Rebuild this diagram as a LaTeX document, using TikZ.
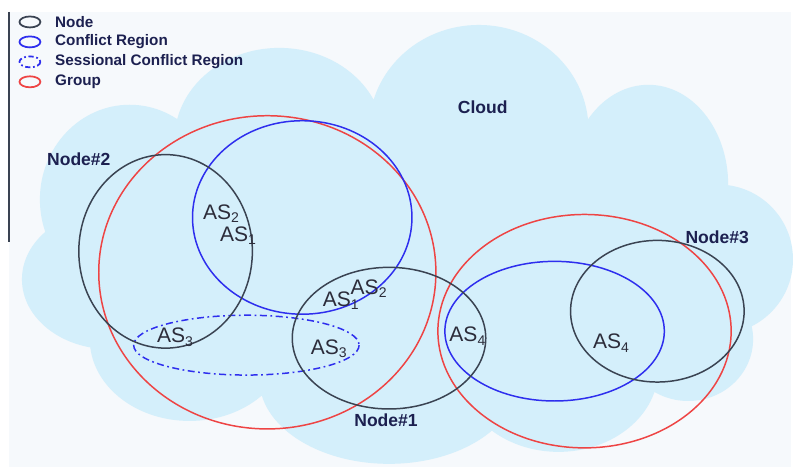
\documentclass[tikz,border=0pt]{standalone}
\usepackage{fontspec}
\setmainfont{Liberation Sans}
\definecolor{cloudblue}{HTML}{D4EFFB}
\definecolor{bgpale}{HTML}{F6F9FC}
\definecolor{nodegrey}{HTML}{3A4352}
\definecolor{regionblue}{HTML}{2E2EEE}
\definecolor{groupred}{HTML}{EE4444}
\definecolor{navy}{HTML}{1C2050}
\definecolor{astext}{HTML}{2C2C3A}

\begin{document}
\begin{tikzpicture}[
    x=0.02cm, y=-0.02cm,
    nodering/.style={draw=nodegrey, line width=0.85pt},
    regionring/.style={draw=regionblue, line width=0.85pt},
    sessionring/.style={draw=regionblue, line width=0.85pt,
        dash pattern=on 4pt off 2pt on 1pt off 2pt},
    groupring/.style={draw=groupred, line width=0.85pt},
    aslabel/.style={font=\fontsize{12}{14}\selectfont, text=astext, inner sep=0pt},
    namelabel/.style={font=\fontsize{10}{12}\selectfont\bfseries, text=navy, inner sep=0pt},
    legendtext/.style={font=\fontsize{8.7}{10}\selectfont\bfseries, text=navy,
        anchor=west, inner sep=0pt}
]

% 배경
\fill[white] (0,0) rectangle (793,468);
\fill[bgpale] (9,12) rectangle (793,468);
\draw[nodegrey, line width=0.8pt] (9,12) -- (9,243);

% 구름
\fill[cloudblue]
    (420,260) ellipse [x radius=300, y radius=160]
    (130,200) ellipse [x radius=90, y radius=95]
    (280,140) ellipse [x radius=105, y radius=92]
    (480,130) ellipse [x radius=110, y radius=105]
    (650,185) ellipse [x radius=80, y radius=100]
    (720,260) ellipse [x radius=75, y radius=75]
    (690,340) ellipse [x radius=65, y radius=62]
    (560,370) ellipse [x radius=100, y radius=83]
    (390,380) ellipse [x radius=130, y radius=85]
    (190,340) ellipse [x radius=100, y radius=82]
    (110,280) ellipse [x radius=88, y radius=70];

% 범례
\draw[nodering, line width=1pt] (30,22) ellipse [x radius=10.5, y radius=5.5];
\draw[regionring, line width=1pt] (30,42) ellipse [x radius=10.5, y radius=5.5];
\draw[sessionring, line width=1pt, dash pattern=on 3pt off 1.5pt on 1pt off 1.5pt]
    (30,62) ellipse [x radius=10.5, y radius=5.5];
\draw[groupring, line width=1pt] (30,82) ellipse [x radius=10.5, y radius=5.5];
\node[legendtext] (lnode) at (55,22) {Node};
\node[legendtext] (lregion) at (55,42) {Conflict Region};
\node[legendtext] (lsession) at (55,62) {Sessional Conflict Region};
\node[legendtext] (lgroup) at (55,82) {Group};

% 그룹
\draw[groupring] (268,273) ellipse [x radius=169, y radius=157];
\draw[groupring] (586,332) ellipse [x radius=147, y radius=117];

% 충돌 영역
\draw[regionring] (303,218) ellipse [x radius=110, y radius=97];
\draw[regionring] (556,332) ellipse [x radius=110, y radius=70];
\draw[sessionring] (247,346) ellipse [x radius=113, y radius=30];

% 노드
\draw[nodering] (166,252) ellipse [x radius=87, y radius=97];
\draw[nodering] (390,339) ellipse [x radius=97, y radius=71];
\draw[nodering] (659,312) ellipse [x radius=87, y radius=71];

% 이름
\node[namelabel] (cloud) at (484,108) {Cloud};
\node[namelabel] (node2) at (79,160) {Node\#2};
\node[namelabel] (node1) at (387,421) {Node\#1};
\node[namelabel] (node3) at (719,238) {Node\#3};

% AS
\node[aslabel] (as2a) at (222,214) {AS\textsubscript{2}};
\node[aslabel] (as1a) at (239,236) {AS\textsubscript{1}};
\node[aslabel] (as1b) at (342,301) {AS\textsubscript{1}};
\node[aslabel] (as2b) at (370,289) {AS\textsubscript{2}};
\node[aslabel] (as3a) at (176,338) {AS\textsubscript{3}};
\node[aslabel] (as3b) at (330,350) {AS\textsubscript{3}};
\node[aslabel] (as4a) at (469,337) {AS\textsubscript{4}};
\node[aslabel] (as4b) at (613,344) {AS\textsubscript{4}};

\end{tikzpicture}
\end{document}
